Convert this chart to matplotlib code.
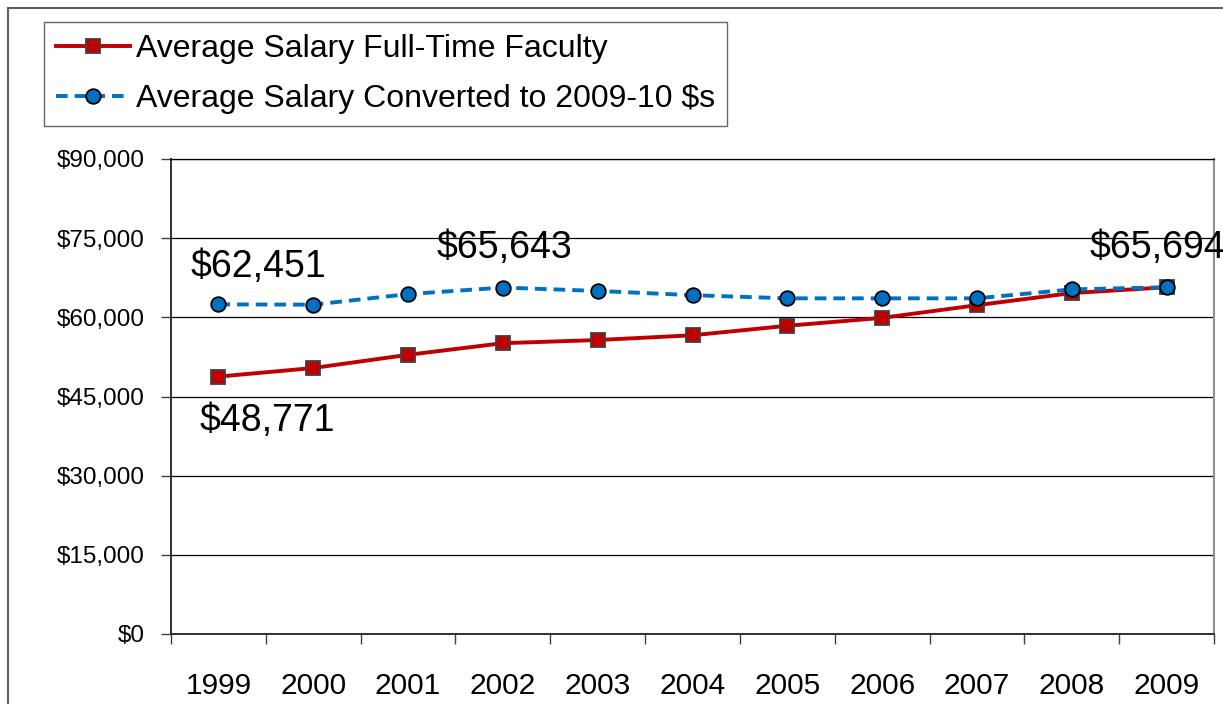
import matplotlib
matplotlib.use("Agg")
import matplotlib.pyplot as plt
from matplotlib.patches import Rectangle
from matplotlib.ticker import FuncFormatter, FixedLocator
import numpy as np

plt.rcParams['font.family'] = ['Liberation Sans', 'DejaVu Sans']

years = ["1999", "2000", "2001", "2002", "2003", "2004", "2005", "2006", "2007", "2008", "2009"]
salary_nominal = [48771, 50400, 52900, 55100, 55700, 56600, 58400, 59900, 62300, 64600, 65694]
salary_real = [62451, 62400, 64400, 65643, 65000, 64200, 63600, 63600, 63600, 65300, 65694]
label_nominal = "Average Salary Full-Time Faculty"
label_real = "Average Salary Converted to 2009-10 $s"

fig = plt.figure(figsize=(12.23, 7.04), dpi=100)
W, H = 1223, 704
ax = fig.add_axes([171 / W, 1 - 634 / H, (1214 - 171) / W, (634 - 159) / H])

x = np.arange(len(years))
red = "#C00000"
blue = "#0070C0"

ax.plot(x, salary_nominal, color=red, lw=2.8, marker='s', ms=10.5,
        mfc=red, mec="#404040", mew=1.3, label=label_nominal, zorder=3)
ax.plot(x, salary_real, color=blue, lw=2.8, ls=(0, (3, 1.8)), marker='o', ms=10.5,
        mfc=blue, mec="#000000", mew=1.3, label=label_real, zorder=4)

ax.set_xlim(-0.5, len(years) - 0.5)
ax.set_ylim(0, 90000)
ax.yaxis.set_major_locator(FixedLocator(np.arange(0, 90001, 15000)))
ax.yaxis.set_major_formatter(FuncFormatter(lambda v, p: f"${int(v):,}"))
ax.grid(axis='y', color='black', lw=0.9)
ax.set_axisbelow(True)

ax.set_xticks(np.arange(-0.5, len(years), 1.0))
ax.set_xticklabels([])
ax.set_xticks(x, minor=True)
ax.set_xticklabels(years, minor=True, fontsize=21.5)
ax.tick_params(axis='x', which='major', length=7, width=1, color='#404040', direction='out')
ax.tick_params(axis='x', which='minor', length=0, pad=27)
ax.tick_params(axis='y', length=7, width=1, color='#404040', pad=12, labelsize=17.5)

for s in ['left', 'bottom']:
    ax.spines[s].set_color('#303030')
    ax.spines[s].set_linewidth(1.4)
ax.spines['right'].set_color('#909090')
ax.spines['right'].set_linewidth(1.5)
ax.spines['top'].set_color('black')
ax.spines['top'].set_linewidth(0.9)

fs_ann = 27
ax.annotate(f"${salary_real[0]:,}", xy=(x[0], salary_real[0]), xytext=(40, 37),
            textcoords='offset pixels', ha='center', va='center', fontsize=fs_ann)
ax.annotate(f"${salary_nominal[0]:,}", xy=(x[0], salary_nominal[0]), xytext=(49, -44),
            textcoords='offset pixels', ha='center', va='center', fontsize=fs_ann)
ax.annotate(f"${salary_real[3]:,}", xy=(x[3], salary_real[3]), xytext=(2, 40),
            textcoords='offset pixels', ha='center', va='center', fontsize=fs_ann)
ax.annotate(f"${salary_real[10]:,}", xy=(x[10], salary_real[10]), xytext=(-77, 39),
            textcoords='offset pixels', ha='left', va='center', fontsize=fs_ann,
            annotation_clip=False)

leg = fig.legend(loc='upper left', bbox_to_anchor=(44 / W, 1 - 22 / H),
                 borderaxespad=0, fontsize=23, frameon=True, fancybox=False,
                 edgecolor='#404040', handlelength=2.3, handletextpad=0.2,
                 labelspacing=0.62, borderpad=0.38)
leg.get_frame().set_linewidth(1.0)

fig.patches.append(Rectangle((8 / W, -0.1), 1.2, (1 - 8 / H) + 0.1, transform=fig.transFigure,
                             fill=False, edgecolor='#606060', lw=1.5, zorder=-1))

fig.savefig("out.png", dpi=100)
